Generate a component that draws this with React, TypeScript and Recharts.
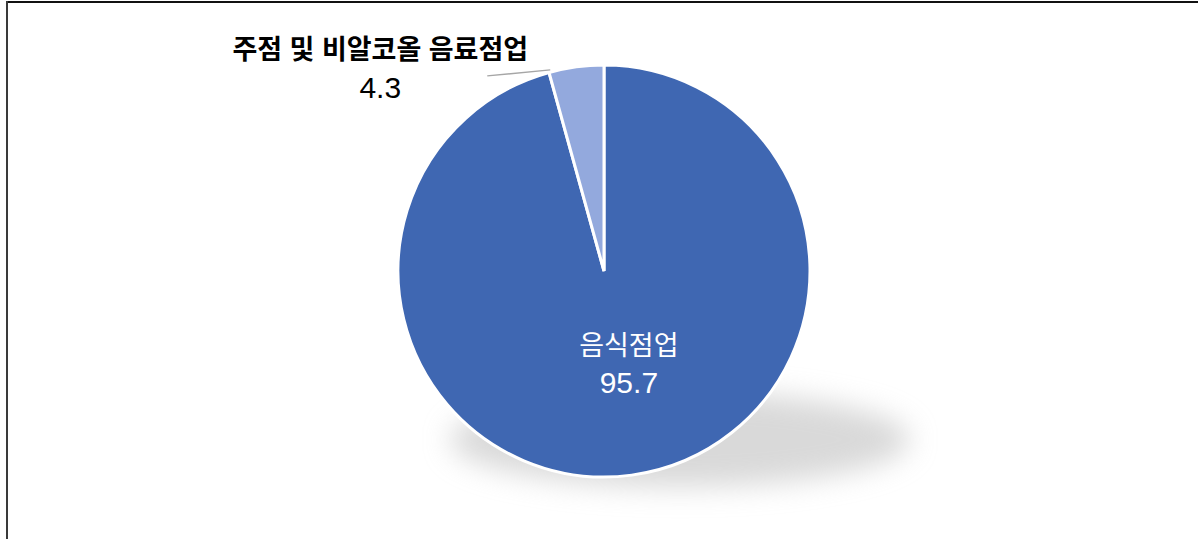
import React from 'react'
import { PieChart, Pie, Cell } from 'recharts'

const categories = ['음식점업', '주점 및 비알코올 음료점업']
const shares = [95.7, 4.3]
const colors = ['#3F67B2', '#93A9DD']

const data = categories.map((name, i) => ({ name, value: shares[i] }))

const RAD = Math.PI / 180
const FONT = '"Liberation Sans", "Noto Sans CJK KR", sans-serif'

const renderLabel = (props: any) => {
  const { cx, cy, midAngle, outerRadius, index, name, value } = props
  if (index === 0) {
    const r = outerRadius * 0.5
    const x = cx + r * Math.cos(-midAngle * RAD) + 11
    const y = cy + r * Math.sin(-midAngle * RAD)
    return (
      <g>
        <text x={x} y={y - 18} fill="#fff" fontSize={27} fontFamily={FONT} textAnchor="middle">
          {name}
        </text>
        <text x={x} y={y + 20} fill="#fff" fontSize={30} fontFamily={FONT} textAnchor="middle">
          {value}
        </text>
      </g>
    )
  }
  const ox = cx + outerRadius * Math.cos(-midAngle * RAD)
  const oy = cy + outerRadius * Math.sin(-midAngle * RAD)
  return (
    <g>
      <polyline
        points={`${ox - 26},${oy + 3} ${ox - 89},${oy + 9}`}
        stroke="#a6a6a6"
        strokeWidth={1.5}
        fill="none"
      />
      <text x={ox - 196} y={oy - 8} fill="#000" fontSize={27} fontWeight="bold" fontFamily={FONT} textAnchor="middle">
        {name}
      </text>
      <text x={ox - 196} y={oy + 31} fill="#000" fontSize={30} fontFamily={FONT} textAnchor="middle">
        {value}
      </text>
    </g>
  )
}

export default function App() {
  return (
    <div style={{ position: 'absolute', left: 0, top: 0, width: 1198, height: 539, background: '#fff', overflow: 'hidden' }}>
      <div style={{ position: 'absolute', left: 6, top: 1, right: 0, height: 2, background: '#111' }} />
      <div style={{ position: 'absolute', left: 6, top: 1, bottom: 0, width: 2, background: '#3a3a3a' }} />
      <div
        style={{
          position: 'absolute',
          left: 450,
          top: 392,
          width: 460,
          height: 95,
          borderRadius: '50%',
          background: 'rgba(170,170,170,0.45)',
          filter: 'blur(14px)',
        }}
      />
      <div style={{ position: 'absolute', left: 0, top: 0 }}>
        <PieChart width={1198} height={539} margin={{ top: 0, right: 0, bottom: 0, left: 0 }}>
          <Pie
            data={data}
            dataKey="value"
            nameKey="name"
            cx={604}
            cy={271}
            outerRadius={206}
            startAngle={90}
            endAngle={-270}
            stroke="#fff"
            strokeWidth={3}
            label={renderLabel}
            labelLine={false}
            isAnimationActive={false}
          >
            {data.map((d, i) => (
              <Cell key={d.name} fill={colors[i]} />
            ))}
          </Pie>
        </PieChart>
      </div>
    </div>
  )
}
